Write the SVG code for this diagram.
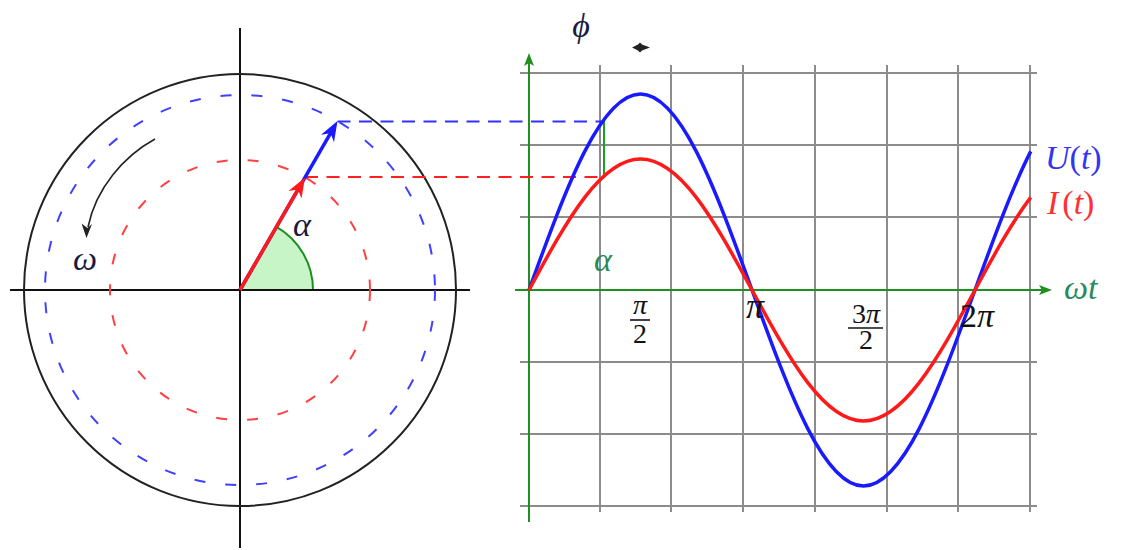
<svg xmlns="http://www.w3.org/2000/svg" width="1124" height="550" viewBox="0 0 1124 550">
<style>
.m{font-family:"Liberation Serif","DejaVu Serif",serif;font-style:italic}
.n{font-family:"Liberation Serif","DejaVu Serif",serif}
.u{font-style:normal}
.grid{stroke:#8c8c8c;stroke-width:2;fill:none}
.ax{stroke:#111;stroke-width:2;fill:none}
.gax{stroke:#1f8f1f;stroke-width:2;fill:none}
.dash{stroke-width:2;fill:none;stroke-dasharray:11 20}
.hd{stroke-width:2;fill:none;stroke-dasharray:13 8.5}
</style>
<rect width="1124" height="550" fill="#fff"/>
<g id="phasor-circle">
<line class="ax" x1="10" y1="290" x2="470" y2="290"/>
<line class="ax" x1="240" y1="28" x2="240" y2="548"/>
<circle cx="240" cy="290" r="216" fill="none" stroke="#222" stroke-width="2"/>
<circle class="dash" cx="240" cy="290" r="195" stroke="#4040ff"/>
<circle class="dash" cx="240" cy="290" r="130" stroke="#ff4040"/>
</g>
<g id="angle-wedge">
<path d="M240,290 L313,290 A73,73 0 0 0 276.5,226.8 Z" fill="#c8f5c8"/>
<path d="M313,290 A73,73 0 0 0 276.5,226.8" fill="none" stroke="#1f8f1f" stroke-width="2"/>
<line class="ax" x1="230" y1="290" x2="320" y2="290"/>
</g>
<g id="grid">
<path class="grid" d="M600,65V512M671,65V512M743,65V512M815,65V512M887,65V512M958,65V512M1030,65V512"/>
<path class="grid" d="M520,73H1037M520,145H1037M520,217H1037M520,362H1037M520,434H1037M520,506H1037"/>
</g>
<g id="axes-right">
<line class="gax" x1="529" y1="522" x2="529" y2="62"/>
<path d="M529,53 L524,66 L529,63 L534,66 Z" fill="#1f8f1f"/>
<line class="gax" x1="515" y1="290" x2="1043" y2="290"/>
<path d="M1052,290 L1039,285 L1042,290 L1039,295 Z" fill="#1f8f1f"/>
</g>
<g id="connectors">
<line class="hd" x1="337.5" y1="121.5" x2="604" y2="121.5" stroke="#3030ff"/>
<line class="hd" x1="305" y1="177" x2="604" y2="177" stroke="#ff2020"/>
<line x1="604" y1="121" x2="604" y2="177" stroke="#1f9f1f" stroke-width="2"/>
<line x1="240" y1="290" x2="331" y2="132.4" stroke="#1a1aff" stroke-width="3.5"/>
<path d="M0,0 L-20,-7.5 L-14,0 L-20,7.5 Z" fill="#1a1aff" transform="translate(337.5,121.1) rotate(-60)"/>
<line x1="240" y1="290" x2="298.5" y2="188.7" stroke="#ff1a1a" stroke-width="3.5"/>
<path d="M0,0 L-20,-7.5 L-14,0 L-20,7.5 Z" fill="#ff1a1a" transform="translate(305,177.4) rotate(-60)"/>
<path d="M155,139 C124,156 96,188 88,227" fill="none" stroke="#222" stroke-width="1.6"/>
<path d="M86.5,238 L81.5,223.5 L87.5,228 L92,224 Z" fill="#222"/>
</g>
<g id="curve-U">
<path d="M529,290 C547.58,238.69 566.17,187.69 584.75,151.41 C603.33,115.13 621.92,94 640.5,94 C659.08,94 677.67,115.13 696.25,151.41 C714.83,187.69 733.42,238.69 752,290 C770.58,341.31 789.17,392.31 807.75,428.59 C826.33,464.87 844.92,486 863.5,486 C882.08,486 900.67,464.87 919.25,428.59 C937.83,392.31 956.42,341.31 975,290 C993.58,238.69 1012.17,187.69 1030.75,151.41" fill="none" stroke="#1a1aff" stroke-width="3.5"/>
</g>
<g id="curve-I">
<path d="M529,290 C547.58,255.7 566.17,221.62 584.75,197.37 C603.33,173.12 621.92,159 640.5,159 C659.08,159 677.67,173.12 696.25,197.37 C714.83,221.62 733.42,255.7 752,290 C770.58,324.3 789.17,358.38 807.75,382.63 C826.33,406.88 844.92,421 863.5,421 C882.08,421 900.67,406.88 919.25,382.63 C937.83,358.38 956.42,324.3 975,290 C993.58,255.7 1012.17,221.62 1030.75,197.37" fill="none" stroke="#ff1a1a" stroke-width="3.5"/>
</g>
<g id="phi-marker">
<path d="M632,47.5 L638,44.5 L640,42.5 L642,44.5 L650,47.5 L642,50.5 L640,52.5 L638,50.5 Z" fill="#222"/>
</g>
<g id="labels">
<text class="m" x="581" y="37" font-size="34" text-anchor="middle" fill="#1a1a40">ϕ</text>
<text class="m" x="85" y="270" font-size="34" text-anchor="middle" fill="#1a1a40">ω</text>
<text class="m" x="302" y="236" font-size="34" text-anchor="middle" fill="#1a1a40">α</text>
<text class="m" x="603" y="271" font-size="34" text-anchor="middle" fill="#2a8a5a">α</text>
<text class="m" x="1064" y="299" font-size="34" fill="#2a8a5a">ωt</text>
<text class="m" x="1045" y="169" font-size="34" fill="#3535f0">U<tspan class="u">(</tspan>t<tspan class="u">)</tspan></text>
<text class="m" x="1047" y="214" font-size="34" fill="#ff3030">I<tspan class="u" dx="4">(</tspan>t<tspan class="u">)</tspan></text>
<text class="m" x="640" y="314" font-size="28" text-anchor="middle" fill="#111">π</text>
<line x1="630" y1="320" x2="650" y2="320" stroke="#111" stroke-width="1.6"/>
<text class="n" x="640" y="343" font-size="28" text-anchor="middle" fill="#111">2</text>
<text class="m" x="755" y="318" font-size="36" text-anchor="middle" fill="#111">π</text>
<text class="m" x="866" y="323" font-size="28" text-anchor="middle" fill="#111"><tspan class="u">3</tspan>π</text>
<line x1="848" y1="328" x2="883" y2="328" stroke="#111" stroke-width="1.6"/>
<text class="n" x="866" y="349" font-size="28" text-anchor="middle" fill="#111">2</text>
<text class="m" x="977" y="327" font-size="34" text-anchor="middle" fill="#111"><tspan class="u">2</tspan>π</text>
</g>
</svg>
